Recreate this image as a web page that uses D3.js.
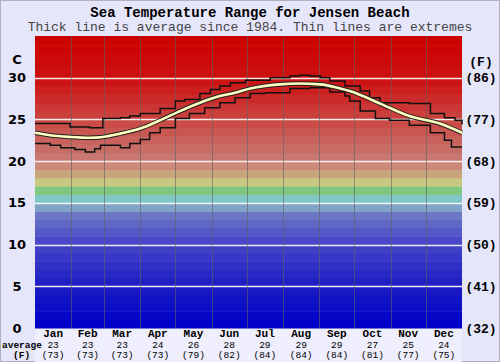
<!DOCTYPE html>
<html>
<head>
<meta charset="utf-8">
<script src="https://cdn.jsdelivr.net/npm/d3@7"></script>
<style>
  body { margin: 0; background: #e6e6fa; }
  svg { display: block; }
</style>
</head>
<body>
<svg id="chart" width="500" height="362"></svg>
<script>
// month info
let months = ['Jan', 'Feb', 'Mar', 'Apr', 'May', 'Jun', 'Jul', 'Aug', 'Sep', 'Oct', 'Nov', 'Dec']
let monthDays = [31, 28, 31, 30, 31, 30, 31, 31, 30, 31, 30, 31]
let monthAvgC = [23, 23, 23, 24, 26, 28, 29, 29, 29, 27, 25, 24]
let monthAvgF = [73, 73, 73, 73, 79, 82, 84, 84, 84, 81, 77, 75]

// ticks
let ticksC = [0, 5, 10, 15, 20, 25, 30]
let ticksF = [32, 41, 50, 59, 68, 77, 86]

// thick line (average), day of year -> deg C
let avgDay = [0, 13, 30, 47, 58, 73, 90, 107, 124, 141, 158, 171, 184, 209, 226, 244, 261, 269, 295, 320, 346, 365]
let avgC = [23.4, 23.1, 22.9, 22.8, 22.9, 23.3, 23.9, 24.9, 26.0, 27.0, 27.8, 28.2, 28.7, 29.2, 29.3, 29.2, 28.7, 28.4, 26.9, 25.4, 24.5, 23.4]

// thin lines (extremes)
let maxDay = [0, 13, 30, 47, 58, 73, 81, 90, 98, 107, 120, 128, 141, 150, 158, 167, 180, 201, 218, 226, 235, 244, 252, 265, 278, 286, 295, 320, 338, 350, 359, 365]
let maxC = [24.5, 24.5, 24.1, 24.0, 25.1, 25.2, 25.4, 25.7, 25.7, 26.3, 27.2, 27.4, 28.1, 28.6, 29.0, 29.4, 29.7, 30.0, 30.2, 30.3, 30.2, 30.0, 29.6, 29.0, 28.4, 27.6, 27.0, 26.9, 25.7, 25.2, 24.9, 24.4]
let minDay = [0, 13, 22, 34, 43, 51, 56, 64, 73, 81, 90, 98, 107, 120, 132, 145, 158, 171, 184, 197, 209, 218, 235, 252, 265, 269, 278, 291, 303, 320, 338, 350, 356, 365]
let minC = [22.1, 21.9, 21.6, 21.4, 21.1, 21.5, 21.9, 21.9, 21.6, 22.1, 22.6, 23.4, 24.0, 25.1, 25.7, 26.4, 27.0, 27.6, 28.1, 28.2, 28.2, 28.7, 28.8, 28.3, 27.8, 27.2, 26.0, 25.1, 24.9, 24.3, 23.4, 22.5, 21.7, 21.7]

// background band colours, keyed by a band's lower temperature
let bandStops = [0, 5, 10, 13, 14, 15, 16, 17, 18, 19, 20, 29, 34]
let bandColors = ['#0000c8', '#2020c4', '#4848c8', '#6c78c4', '#80a4c8', '#80c8c8', '#80c880', '#c8c880', '#c8a47c', '#cc8878', '#c87870', '#cc1414', '#cc0000']

let margin = ({ top: 36, right: 38, bottom: 34, left: 35 })
let width = 500 - margin.left - margin.right
let height = 362 - margin.top - margin.bottom

let svg = d3.select('#chart')

svg.append('rect')
  .attr('x', 0.5).attr('y', 0.5).attr('width', 499).attr('height', 361)
  .attr('fill', '#e6e6fa').attr('stroke', '#b0b0c0')

let x = d3.scaleLinear().domain([0, 365]).range([margin.left, margin.left + width])
let y = d3.scaleLinear().domain([0, 35]).range([margin.top + height, margin.top])
let bandColor = d3.scaleLinear().domain(bandStops).range(bandColors)

// label strip under plot
svg.append('rect')
  .attr('x', x(0)).attr('y', y(0)).attr('width', width).attr('height', 34)
  .attr('fill', '#eeeefc')

// colour bands
svg.append('g')
  .selectAll('rect')
  .data(d3.range(0, 35))
  .join('rect')
  .attr('x', x(0))
  .attr('y', d => y(d + 1))
  .attr('width', width)
  .attr('height', d => y(d) - y(d + 1) + 0.5)
  .attr('fill', d => bandColor(d))

// horizontal gridlines
svg.append('g')
  .selectAll('line')
  .data(ticksC.slice(1))
  .join('line')
  .attr('x1', x(0)).attr('x2', x(365))
  .attr('y1', d => Math.round(y(d)) + 0.5).attr('y2', d => Math.round(y(d)) + 0.5)
  .attr('stroke', '#ffffff').attr('stroke-width', 1.5).attr('opacity', 0.9)

// month boundaries
let monthStart = monthDays.map((d, i) => d3.sum(monthDays.slice(0, i)))
svg.append('g')
  .selectAll('line')
  .data(monthStart.slice(1))
  .join('line')
  .attr('x1', d => Math.round(x(d)) + 0.5).attr('x2', d => Math.round(x(d)) + 0.5)
  .attr('y1', y(35)).attr('y2', y(0))
  .attr('stroke', '#606060').attr('stroke-opacity', 0.6)

// extremes
let stepLine = d3.line().curve(d3.curveStepAfter)
svg.append('path')
  .attr('d', stepLine(maxDay.map((d, i) => [x(d), y(maxC[i])])))
  .attr('fill', 'none').attr('stroke', '#111').attr('stroke-width', 1.5)
svg.append('path')
  .attr('d', stepLine(minDay.map((d, i) => [x(d), y(minC[i])])))
  .attr('fill', 'none').attr('stroke', '#111').attr('stroke-width', 1.5)

// average
let avgLine = d3.line().curve(d3.curveMonotoneX)
let avgPath = avgLine(avgDay.map((d, i) => [x(d), y(avgC[i])]))
svg.append('path').attr('d', avgPath)
  .attr('fill', 'none').attr('stroke', '#222').attr('stroke-width', 4.6)
svg.append('path').attr('d', avgPath)
  .attr('fill', 'none').attr('stroke', '#ffffc0').attr('stroke-width', 2.6)

// titles
svg.append('text')
  .attr('x', 250).attr('y', 17)
  .attr('text-anchor', 'middle')
  .style('font', 'bold 14px "Liberation Mono", monospace')
  .text('Sea Temperature Range for Jensen Beach')
svg.append('text')
  .attr('x', 250).attr('y', 31)
  .attr('text-anchor', 'middle')
  .attr('fill', '#444')
  .style('font', '13px "Liberation Mono", monospace')
  .text('Thick line is average since 1984. Thin lines are extremes')

// left axis (C)
svg.append('g')
  .style('font', 'bold 13px "DejaVu Sans", sans-serif')
  .selectAll('text')
  .data(ticksC)
  .join('text')
  .attr('x', 17).attr('y', d => y(d))
  .attr('dy', '0.35em')
  .attr('text-anchor', 'middle')
  .text(d => d)
svg.append('text')
  .attr('x', 17).attr('y', y(32.2)).attr('dy', '0.35em')
  .attr('text-anchor', 'middle')
  .style('font', 'bold 13px "DejaVu Sans", sans-serif')
  .text('C')

// right axis (F)
svg.append('g')
  .style('font', 'bold 13px "Liberation Mono", monospace')
  .selectAll('text')
  .data(ticksF)
  .join('text')
  .attr('x', 481).attr('y', (d, i) => y(ticksC[i]))
  .attr('dy', '0.35em')
  .attr('text-anchor', 'middle')
  .text(d => `(${d})`)
svg.append('text')
  .attr('x', 481).attr('y', y(31.9)).attr('dy', '0.35em')
  .attr('text-anchor', 'middle')
  .style('font', 'bold 13px "Liberation Mono", monospace')
  .text('(F)')

// month labels
let mid = monthStart.map((s, i) => x(s + monthDays[i] / 2))
let bottom = svg.append('g').attr('text-anchor', 'middle')
bottom.selectAll('.mname')
  .data(months)
  .join('text')
  .attr('class', 'mname')
  .attr('x', (d, i) => mid[i]).attr('y', 337)
  .style('font', 'bold 11px "Liberation Mono", monospace')
  .text(d => d)
bottom.selectAll('.mc')
  .data(monthAvgC)
  .join('text')
  .attr('class', 'mc')
  .attr('x', (d, i) => mid[i]).attr('y', 347.5)
  .style('font', '9.5px "Liberation Mono", monospace')
  .text(d => d)
bottom.selectAll('.mf')
  .data(monthAvgF)
  .join('text')
  .attr('class', 'mf')
  .attr('x', (d, i) => mid[i]).attr('y', 358)
  .style('font', '9.5px "Liberation Mono", monospace')
  .text(d => `(${d})`)

svg.append('text')
  .attr('x', 2).attr('y', 347.5)
  .style('font', 'bold 9.5px "Liberation Mono", monospace')
  .text('average')
svg.append('text')
  .attr('x', 13).attr('y', 358)
  .style('font', 'bold 9.5px "Liberation Mono", monospace')
  .text('(F)')
</script>
</body>
</html>
